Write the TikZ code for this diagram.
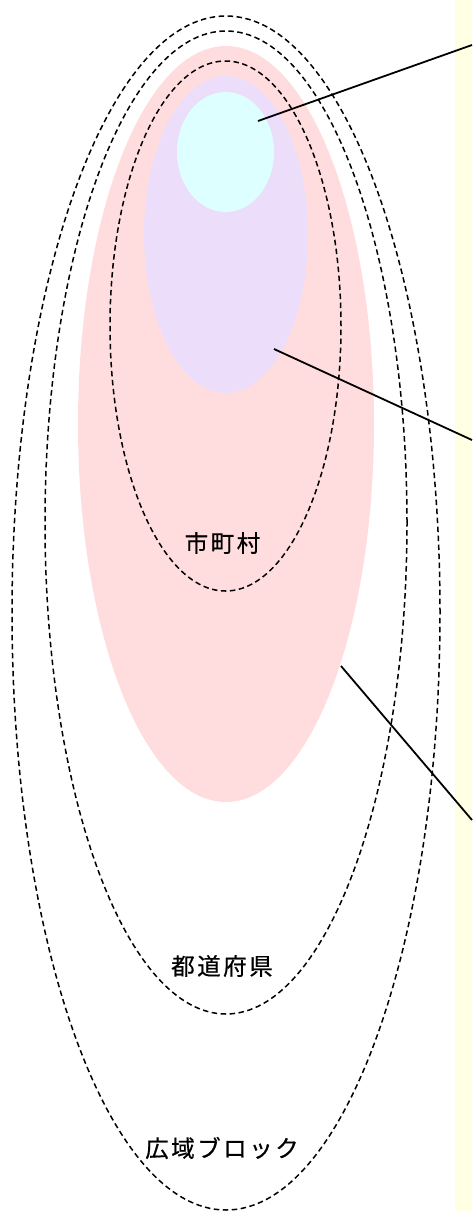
\documentclass[tikz,border=0pt]{standalone}
\usepackage{fontspec}
\newfontfamily\cjk[FakeBold=0.6]{Noto Sans CJK JP}
\usetikzlibrary{shapes.geometric}
\definecolor{bandyellow}{RGB}{255,255,228}
\definecolor{pinkfill}{RGB}{255,221,223}
\definecolor{lavfill}{RGB}{236,222,250}
\definecolor{cyanfill}{RGB}{222,255,255}
\tikzset{
  region/.style={ellipse, inner sep=0pt, draw=none},
  boundary/.style={ellipse, inner sep=0pt, draw=black, line width=1.5pt, dash pattern=on 5.5pt off 3.5pt},
  lbl/.style={font=\cjk\fontsize{23.5}{23.5}\selectfont, inner sep=0pt},
  leader/.style={draw=black, line width=1.8pt}
}
\begin{document}
\begin{tikzpicture}[x=1pt,y=-1pt]
\useasboundingbox (0,0) rectangle (472,1211);
\fill[white] (0,0) rectangle (472,1211);
\fill[bandyellow] (455,0) rectangle (472,1211);
% filled regions
\node[region, fill=pinkfill, minimum width=296pt, minimum height=756pt] (pink) at (226,424) {};
\node[region, fill=lavfill, minimum width=164pt, minimum height=317pt] (lav) at (226,234.5) {};
\node[region, fill=cyanfill, minimum width=97pt, minimum height=120pt] (cyan) at (225.5,152) {};
% dashed boundaries
\node[boundary, minimum width=428pt, minimum height=1194pt] (block) at (226,613) {};
\node[boundary, minimum width=362pt, minimum height=983pt] (pref) at (226,522.5) {};
\node[boundary, minimum width=231pt, minimum height=530pt] (muni) at (225.5,326) {};
% labels
\node[lbl] (lmuni) at (222.5,543) {市\kern2.5pt 町\kern2.5pt 村};
\node[lbl] (lpref) at (222,966) {都\kern2.5pt 道\kern2.5pt 府\kern2.5pt 県};
\node[lbl] (lblock) at (222,1148) {広\kern2.5pt 域\kern2.5pt ブ\kern2.5pt ロ\kern2.5pt ッ\kern2.5pt ク};
% leader lines
\coordinate (s1) at (258,121);
\coordinate (e1) at (472,45);
\coordinate (s2) at (274,349);
\coordinate (e2) at (472,440);
\coordinate (s3) at (341,666);
\coordinate (e3) at (472,820);
\draw[leader] (s1) -- (e1);
\draw[leader] (s2) -- (e2);
\draw[leader] (s3) -- (e3);
\end{tikzpicture}
\end{document}
